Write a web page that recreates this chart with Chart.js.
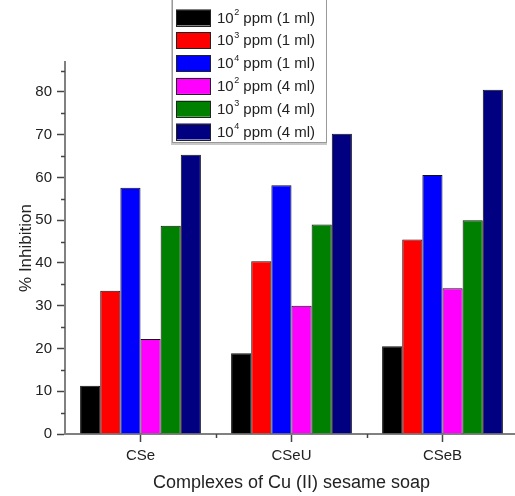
<!DOCTYPE html>
<html>
<head>
<meta charset="utf-8">
<script src="https://cdn.jsdelivr.net/npm/chart.js@4.4.1/dist/chart.umd.min.js"></script>
<style>
  html, body { margin: 0; padding: 0; background: #fff; overflow: hidden; }
  #wrap { width: 520px; height: 496px; }
</style>
</head>
<body>
<div id="wrap"><canvas id="inhibitionChart" width="520" height="496"></canvas></div>
<script>
// categories and series
const categories = ['CSe', 'CSeU', 'CSeB'];
const exponents = [2, 3, 4, 2, 3, 4];
const volumes = ['1 ml', '1 ml', '1 ml', '4 ml', '4 ml', '4 ml'];
const colors = ['#000000', '#ff0000', '#0000ff', '#ff00ff', '#008000', '#000080'];

const ppm100_1ml = [11.3, 18.9, 20.5];
const ppm1000_1ml = [33.5, 40.4, 45.5];
const ppm10000_1ml = [57.6, 58.2, 60.6];
const ppm100_4ml = [22.2, 30.0, 34.1];
const ppm1000_4ml = [48.7, 49.0, 50.0];
const ppm10000_4ml = [65.3, 70.2, 80.5];
const seriesValues = [ppm100_1ml, ppm1000_1ml, ppm10000_1ml, ppm100_4ml, ppm1000_4ml, ppm10000_4ml];

const yTicks = [0, 10, 20, 30, 40, 50, 60, 70, 80];
const yMinorTicks = [5, 15, 25, 35, 45, 55, 65, 75, 85];

const textColor = '#222';
const axisColor = '#808080';
const fontFamily = '"Liberation Sans", Arial, sans-serif';

// minor tick marks + the boxed legend with superscripts
const extrasPlugin = {
    id: 'extras',
    afterDraw(chart) {
        const ctx = chart.ctx;
        const x = chart.scales.x;
        const y = chart.scales.y;
        const area = chart.chartArea;

        ctx.save();
        ctx.strokeStyle = '#444';
        ctx.lineWidth = 1.5;
        yMinorTicks.forEach(v => {
            const py = Math.round(y.getPixelForValue(v)) + 0.5;
            ctx.beginPath();
            ctx.moveTo(area.left - 4, py);
            ctx.lineTo(area.left, py);
            ctx.stroke();
        });
        for (let i = 0; i < categories.length - 1; i++) {
            const px = Math.round(x.getPixelForValue(i + 0.5)) + 0.5;
            ctx.beginPath();
            ctx.moveTo(px, area.bottom);
            ctx.lineTo(px, area.bottom + 4);
            ctx.stroke();
        }
        ctx.restore();

        // legend box
        const boxL = 172, boxR = 327, boxT = -2, boxB = 143;
        ctx.save();
        ctx.fillStyle = '#c8c8c8';
        ctx.fillRect(boxL - 1, boxT, boxR - boxL + 1, boxB - boxT + 2);
        ctx.fillStyle = '#fff';
        ctx.fillRect(boxL, boxT, boxR - boxL, boxB - boxT);
        ctx.strokeStyle = '#999';
        ctx.lineWidth = 1;
        ctx.strokeRect(boxL + 0.5, boxT + 0.5, boxR - boxL - 1, boxB - boxT - 1);

        chart.data.datasets.forEach((ds, i) => {
            const cy = 17.5 + i * 22.8;
            ctx.fillStyle = ds.backgroundColor;
            ctx.fillRect(176, cy - 8, 35, 16);
            ctx.strokeStyle = '#222';
            ctx.lineWidth = 1;
            ctx.strokeRect(176.5, Math.round(cy - 8) + 0.5, 34, 16);

            ctx.fillStyle = textColor;
            ctx.textBaseline = 'middle';
            ctx.textAlign = 'left';
            ctx.font = '15px ' + fontFamily;
            let tx = 217;
            ctx.fillText('10', tx, cy + 1);
            tx += ctx.measureText('10').width;
            ctx.font = '9px ' + fontFamily;
            ctx.fillText(String(exponents[i]), tx + 0.5, cy - 5);
            tx += ctx.measureText(String(exponents[i])).width + 0.5;
            ctx.font = '15px ' + fontFamily;
            ctx.fillText(' ppm (' + volumes[i] + ')', tx, cy + 1);
        });
        ctx.restore();
    }
};

const datasets = seriesValues.map((vals, i) => ({
    label: '10^' + exponents[i] + ' ppm (' + volumes[i] + ')',
    data: vals,
    backgroundColor: colors[i],
    borderColor: '#111',
    borderWidth: 1,
    categoryPercentage: 0.8,
    barPercentage: 1.0
}));

const ctx = document.getElementById('inhibitionChart').getContext('2d');
const inhibitionChart = new Chart(ctx, {
    type: 'bar',
    data: {
        labels: categories,
        datasets: datasets
    },
    options: {
        responsive: false,
        animation: false,
        layout: {
            padding: { top: 62, right: 2, left: 0, bottom: 0 }
        },
        plugins: {
            legend: { display: false },
            tooltip: { enabled: false }
        },
        scales: {
            x: {
                grid: {
                    display: true,
                    offset: false,
                    drawOnChartArea: false,
                    drawTicks: true,
                    tickLength: 8,
                    tickColor: '#444',
                    tickWidth: 1.5
                },
                border: { display: true, color: axisColor, width: 2 },
                ticks: {
                    color: textColor,
                    padding: 5,
                    font: { family: fontFamily, size: 15 }
                },
                title: {
                    display: true,
                    text: 'Complexes of Cu (II) sesame soap',
                    color: textColor,
                    padding: { top: 0, bottom: 2 },
                    font: { family: fontFamily, size: 18 }
                },
                afterFit(scale) { scale.height = 62; }
            },
            y: {
                min: 0,
                max: 87,
                afterBuildTicks(scale) {
                    scale.ticks = yTicks.map(v => ({ value: v }));
                },
                grid: {
                    display: true,
                    drawOnChartArea: false,
                    drawTicks: true,
                    tickLength: 8,
                    tickColor: '#444',
                    tickWidth: 1.5
                },
                border: { display: true, color: axisColor, width: 2 },
                ticks: {
                    color: textColor,
                    padding: 5,
                    font: { family: fontFamily, size: 15 }
                },
                title: {
                    display: true,
                    text: '% Inhibition',
                    color: textColor,
                    padding: { top: 16, bottom: 0 },
                    font: { family: fontFamily, size: 17 }
                },
                afterFit(scale) { scale.width = 65; }
            }
        }
    },
    plugins: [extrasPlugin]
});
</script>
</body>
</html>
